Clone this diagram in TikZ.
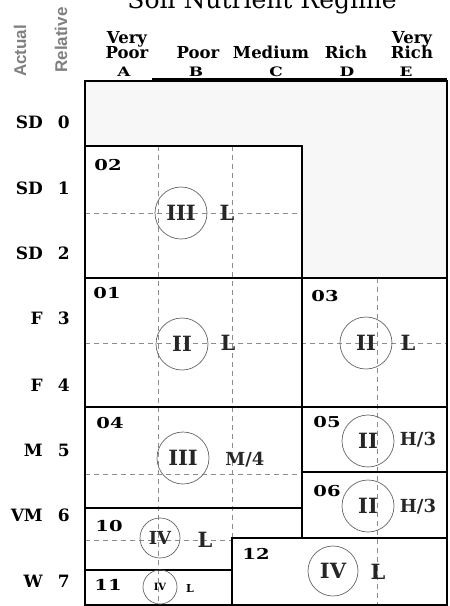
\documentclass[tikz,border=0pt]{standalone}
\usepackage{fontspec}
\setmainfont{DejaVu Serif}
\newfontfamily\sidefont{Liberation Sans}
\begin{document}
\begin{tikzpicture}[x=1pt,y=-1pt,
  boxline/.style={line width=2.4pt, line cap=rect},
  guide/.style={black!45, line width=0.6pt, dash pattern=on 5pt off 4pt},
  ring/.style={circle, draw=black!60, line width=0.7pt, inner sep=0pt, minimum size=#1},
  ring/.default=52pt,
  numeral/.style={font=\bfseries\fontsize{21}{21}\selectfont, text=black!85},
  soil/.style={font=\bfseries\fontsize{21}{21}\selectfont, text=black!85},
  ratio/.style={font=\bfseries\fontsize{18}{18}\selectfont, text=black!85},
  zonelabel/.style={font=\bfseries\fontsize{15}{15}\selectfont, inner sep=0pt},
  rowlab/.style={font=\bfseries\fontsize{17}{17}\selectfont, inner sep=0pt},
  headlab/.style={font=\bfseries\fontsize{16.5}{16.5}\selectfont, inner sep=0pt, anchor=base},
  collab/.style={font=\bfseries\fontsize{13}{13}\selectfont, inner sep=0pt, anchor=base},
  sidelab/.style={font=\sidefont\bfseries\fontsize{17}{17}\selectfont, text=black!50, rotate=90, inner sep=0pt}
]
\useasboundingbox (0,0) rectangle (450,606);

% title
\node[font=\fontsize{25}{25}\selectfont, anchor=base, inner sep=0pt] (title) at (262,8) {Soil Nutrient Regime};

% axis captions
\node[sidelab] (actual) at (20,51) {Actual};
\node[sidelab] (relative) at (61,40) {Relative};

% column headings
\node[headlab] (hA1) at (127,43) {Very};
\node[headlab] (hA2) at (127,58) {Poor};
\node[headlab] (hB) at (198,58) {Poor};
\node[headlab] (hC) at (271,58) {Medium};
\node[headlab] (hD) at (346,58) {Rich};
\node[headlab] (hE1) at (412,43) {Very};
\node[headlab] (hE2) at (412,58) {Rich};
\node[collab] (cA) at (124,76) {\scalebox{1.3}[1]{A}};
\node[collab] (cB) at (196,76) {\scalebox{1.3}[1]{B}};
\node[collab] (cC) at (276,76) {\scalebox{1.3}[1]{C}};
\node[collab] (cD) at (347,76) {\scalebox{1.3}[1]{D}};
\node[collab] (cE) at (406,76) {\scalebox{1.3}[1]{E}};

% moisture rows
\foreach \lab/\num/\y [count=\i] in {SD/0/122, SD/1/188, SD/2/253, F/3/318, F/4/385, M/5/450, VM/6/515, W/7/581}{
  \node[rowlab, anchor=east] (ra\i) at (43,\y) {\lab};
  \node[rowlab, anchor=east] (rn\i) at (70,\y) {\num};
}

% unclassified (shaded) area
\fill[black!3] (85,81) -- (447,81) -- (447,278) -- (302,278) -- (302,146) -- (85,146) -- cycle;

% dashed guide lines
\draw[guide] (158,146) -- (158,605);
\draw[guide] (232,146) -- (232,538);
\draw[guide] (377,278) -- (377,605);
\draw[guide] (85,213) -- (302,213);
\draw[guide] (85,343) -- (447,343);
\draw[guide] (85,474) -- (302,474);
\draw[guide] (85,540) -- (232,540);

% unit boundaries
\draw[boxline] (85,81) rectangle (447,605);
\draw[line width=3.2pt] (152,80) -- (447,80);
\draw[boxline] (85,146) -- (302,146) -- (302,538);
\draw[boxline] (85,278) -- (447,278);
\draw[boxline] (85,407) -- (447,407);
\draw[boxline] (85,508) -- (302,508);
\draw[boxline] (302,472) -- (447,472);
\draw[boxline] (232,538) -- (447,538);
\draw[boxline] (232,538) -- (232,605);
\draw[boxline] (85,570) -- (232,570);

% unit numbers
\node[zonelabel] (u02) at (108,165) {\scalebox{1.3}[1]{02}};
\node[zonelabel] (u01) at (107,293) {\scalebox{1.3}[1]{01}};
\node[zonelabel] (u03) at (325,296) {\scalebox{1.3}[1]{03}};
\node[zonelabel] (u04) at (110,423) {\scalebox{1.3}[1]{04}};
\node[zonelabel] (u05) at (327,422) {\scalebox{1.3}[1]{05}};
\node[zonelabel] (u06) at (327,491) {\scalebox{1.3}[1]{06}};
\node[zonelabel] (u10) at (109,526) {\scalebox{1.3}[1]{10}};
\node[zonelabel] (u11) at (108,585) {\scalebox{1.3}[1]{11}};
\node[zonelabel] (u12) at (256,554) {\scalebox{1.3}[1]{12}};

% site series and soil classes
\node[ring, numeral] (s02) at (181,213) {III};
\node[soil] (k02) at (227,213) {L};
\node[ring, numeral] (s01) at (182,344) {II};
\node[soil] (k01) at (228,343) {L};
\node[ring, numeral] (s03) at (366,343) {II};
\node[soil] (k03) at (408,343) {L};
\node[ring, numeral] (s04) at (183,458) {III};
\node[ratio] (k04) at (245,460) {M/4};
\node[ring, numeral] (s05) at (368,441) {II};
\node[ratio] (k05) at (418,440) {H/3};
\node[ring, numeral] (s06) at (368,506) {II};
\node[ratio] (k06) at (418,507) {H/3};
\node[ring=40pt, numeral, font=\bfseries\fontsize{18}{18}\selectfont] (s10) at (160,538) {IV};
\node[soil] (k10) at (205,540) {L};
\node[ring=34pt, font=\bfseries\fontsize{10}{10}\selectfont] (s11) at (160,587) {IV};
\node[font=\bfseries\fontsize{11}{11}\selectfont] (k11) at (190,588) {L};
\node[ring=50pt, numeral] (s12) at (333,571) {IV};
\node[soil] (k12) at (378,572) {L};
\end{tikzpicture}
\end{document}
